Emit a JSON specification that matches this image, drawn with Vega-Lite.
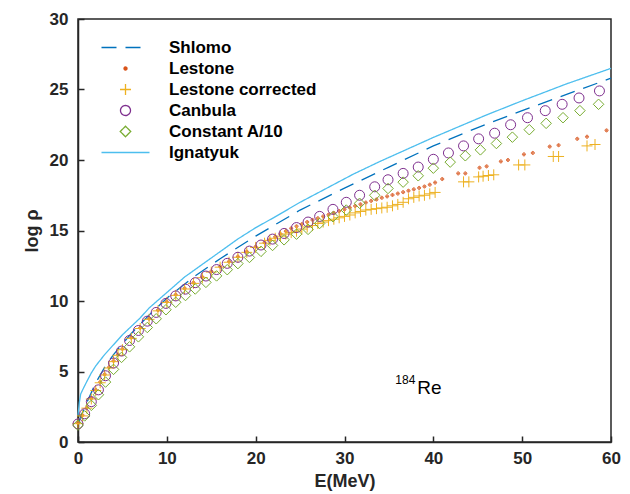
{
  "$schema": "https://vega.github.io/schema/vega-lite/v6.json",
  "width": 533,
  "height": 423,
  "autosize": "none",
  "padding": {"left": 78, "top": 19, "right": 19, "bottom": 52},
  "background": "white",
  "config": {
    "font": "Liberation Sans",
    "view": {"stroke": "#262626", "strokeWidth": 1.5},
    "axis": {
      "grid": false,
      "domainColor": "#262626",
      "domainWidth": 1.5,
      "tickColor": "#262626",
      "tickWidth": 1.5,
      "labelFont": "Liberation Sans",
      "labelFontWeight": "bold",
      "labelFontSize": 17,
      "labelColor": "#262626",
      "labelFlush": false,
      "titleFont": "Liberation Sans",
      "titleFontWeight": "bold",
      "titleFontSize": 18,
      "titleColor": "#262626"
    }
  },
  "datasets": {
    "curves": [
      {"series": "Shlomo", "E": 0, "logrho": 1.3},
      {"series": "Shlomo", "E": 0.5, "logrho": 2.1},
      {"series": "Shlomo", "E": 1, "logrho": 2.8},
      {"series": "Shlomo", "E": 2, "logrho": 4.2},
      {"series": "Shlomo", "E": 3, "logrho": 5.3},
      {"series": "Shlomo", "E": 4, "logrho": 6.2},
      {"series": "Shlomo", "E": 6, "logrho": 7.7},
      {"series": "Shlomo", "E": 8, "logrho": 9.0},
      {"series": "Shlomo", "E": 10, "logrho": 10.2},
      {"series": "Shlomo", "E": 13, "logrho": 11.7},
      {"series": "Shlomo", "E": 16, "logrho": 13.0},
      {"series": "Shlomo", "E": 20, "logrho": 14.6},
      {"series": "Shlomo", "E": 25, "logrho": 16.45},
      {"series": "Shlomo", "E": 30, "logrho": 18.0},
      {"series": "Shlomo", "E": 35, "logrho": 19.5},
      {"series": "Shlomo", "E": 40, "logrho": 21.0},
      {"series": "Shlomo", "E": 45, "logrho": 22.3},
      {"series": "Shlomo", "E": 50, "logrho": 23.5},
      {"series": "Shlomo", "E": 55, "logrho": 24.65},
      {"series": "Shlomo", "E": 60, "logrho": 25.8},

      {"series": "Ignatyuk", "E": 0, "logrho": 1.9},
      {"series": "Ignatyuk", "E": 0.15, "logrho": 2.8},
      {"series": "Ignatyuk", "E": 0.3, "logrho": 3.4},
      {"series": "Ignatyuk", "E": 0.6, "logrho": 3.8},
      {"series": "Ignatyuk", "E": 1, "logrho": 4.3},
      {"series": "Ignatyuk", "E": 1.5, "logrho": 4.9},
      {"series": "Ignatyuk", "E": 2, "logrho": 5.4},
      {"series": "Ignatyuk", "E": 3, "logrho": 6.2},
      {"series": "Ignatyuk", "E": 4, "logrho": 6.9},
      {"series": "Ignatyuk", "E": 5, "logrho": 7.6},
      {"series": "Ignatyuk", "E": 6, "logrho": 8.2},
      {"series": "Ignatyuk", "E": 7, "logrho": 8.8},
      {"series": "Ignatyuk", "E": 8, "logrho": 9.5},
      {"series": "Ignatyuk", "E": 10, "logrho": 10.6},
      {"series": "Ignatyuk", "E": 12, "logrho": 11.7},
      {"series": "Ignatyuk", "E": 14, "logrho": 12.6},
      {"series": "Ignatyuk", "E": 16, "logrho": 13.5},
      {"series": "Ignatyuk", "E": 18, "logrho": 14.4},
      {"series": "Ignatyuk", "E": 20, "logrho": 15.2},
      {"series": "Ignatyuk", "E": 22, "logrho": 15.9},
      {"series": "Ignatyuk", "E": 25, "logrho": 17.0},
      {"series": "Ignatyuk", "E": 28, "logrho": 18.0},
      {"series": "Ignatyuk", "E": 31, "logrho": 19.0},
      {"series": "Ignatyuk", "E": 34, "logrho": 19.9},
      {"series": "Ignatyuk", "E": 37, "logrho": 20.75},
      {"series": "Ignatyuk", "E": 40, "logrho": 21.6},
      {"series": "Ignatyuk", "E": 43, "logrho": 22.4},
      {"series": "Ignatyuk", "E": 46, "logrho": 23.2},
      {"series": "Ignatyuk", "E": 50, "logrho": 24.2},
      {"series": "Ignatyuk", "E": 55, "logrho": 25.4},
      {"series": "Ignatyuk", "E": 60, "logrho": 26.5},

      {"series": "Lestone", "E": 0, "logrho": 1.35},
      {"series": "Lestone", "E": 0.5, "logrho": 1.9},
      {"series": "Lestone", "E": 1, "logrho": 2.45},
      {"series": "Lestone", "E": 1.5, "logrho": 3.1},
      {"series": "Lestone", "E": 2, "logrho": 3.7},
      {"series": "Lestone", "E": 2.5, "logrho": 4.25},
      {"series": "Lestone", "E": 3, "logrho": 4.8},
      {"series": "Lestone", "E": 3.5, "logrho": 5.3},
      {"series": "Lestone", "E": 4, "logrho": 5.75},
      {"series": "Lestone", "E": 4.5, "logrho": 6.2},
      {"series": "Lestone", "E": 5, "logrho": 6.6},
      {"series": "Lestone", "E": 6, "logrho": 7.4},
      {"series": "Lestone", "E": 7, "logrho": 8.1},
      {"series": "Lestone", "E": 8, "logrho": 8.75},
      {"series": "Lestone", "E": 9, "logrho": 9.35},
      {"series": "Lestone", "E": 10, "logrho": 9.95},
      {"series": "Lestone", "E": 11, "logrho": 10.45},
      {"series": "Lestone", "E": 12, "logrho": 10.9},
      {"series": "Lestone", "E": 13, "logrho": 11.3},
      {"series": "Lestone", "E": 14, "logrho": 11.7},
      {"series": "Lestone", "E": 15, "logrho": 12.1},
      {"series": "Lestone", "E": 16, "logrho": 12.45},
      {"series": "Lestone", "E": 17, "logrho": 12.8},
      {"series": "Lestone", "E": 18, "logrho": 13.15},
      {"series": "Lestone", "E": 19, "logrho": 13.5},
      {"series": "Lestone", "E": 20, "logrho": 13.85},
      {"series": "Lestone", "E": 21, "logrho": 14.15},
      {"series": "Lestone", "E": 21.6, "logrho": 14.35},
      {"series": "Lestone", "E": 22.2, "logrho": 14.55},
      {"series": "Lestone", "E": 22.8, "logrho": 14.75},
      {"series": "Lestone", "E": 23.4, "logrho": 14.95},
      {"series": "Lestone", "E": 24.0, "logrho": 15.15},
      {"series": "Lestone", "E": 24.6, "logrho": 15.3},
      {"series": "Lestone", "E": 25.2, "logrho": 15.45},
      {"series": "Lestone", "E": 25.8, "logrho": 15.6},
      {"series": "Lestone", "E": 26.4, "logrho": 15.75},
      {"series": "Lestone", "E": 27.0, "logrho": 15.87},
      {"series": "Lestone", "E": 27.6, "logrho": 16.0},
      {"series": "Lestone", "E": 28.2, "logrho": 16.12},
      {"series": "Lestone", "E": 28.8, "logrho": 16.25},
      {"series": "Lestone", "E": 29.4, "logrho": 16.38},
      {"series": "Lestone", "E": 30.0, "logrho": 16.5},
      {"series": "Lestone", "E": 30.6, "logrho": 16.62},
      {"series": "Lestone", "E": 31.2, "logrho": 16.74},
      {"series": "Lestone", "E": 31.8, "logrho": 16.86},
      {"series": "Lestone", "E": 32.4, "logrho": 16.98},
      {"series": "Lestone", "E": 33.0, "logrho": 17.1},
      {"series": "Lestone", "E": 33.6, "logrho": 17.2},
      {"series": "Lestone", "E": 34.2, "logrho": 17.32},
      {"series": "Lestone", "E": 34.8, "logrho": 17.42},
      {"series": "Lestone", "E": 35.4, "logrho": 17.52},
      {"series": "Lestone", "E": 36.0, "logrho": 17.62},
      {"series": "Lestone", "E": 36.6, "logrho": 17.72},
      {"series": "Lestone", "E": 37.2, "logrho": 17.82},
      {"series": "Lestone", "E": 37.8, "logrho": 17.92},
      {"series": "Lestone", "E": 38.4, "logrho": 18.02},
      {"series": "Lestone", "E": 39.0, "logrho": 18.12},
      {"series": "Lestone", "E": 39.6, "logrho": 18.25},
      {"series": "Lestone", "E": 40.2, "logrho": 18.4},
      {"series": "Lestone", "E": 41.0, "logrho": 18.65},
      {"series": "Lestone", "E": 42.8, "logrho": 19.05},
      {"series": "Lestone", "E": 43.6, "logrho": 19.05},
      {"series": "Lestone", "E": 45.2, "logrho": 19.45},
      {"series": "Lestone", "E": 46.0, "logrho": 19.55},
      {"series": "Lestone", "E": 47.6, "logrho": 19.9},
      {"series": "Lestone", "E": 48.4, "logrho": 20.0},
      {"series": "Lestone", "E": 50.2, "logrho": 20.4},
      {"series": "Lestone", "E": 51.2, "logrho": 20.5},
      {"series": "Lestone", "E": 53.1, "logrho": 20.95},
      {"series": "Lestone", "E": 54.1, "logrho": 21.05},
      {"series": "Lestone", "E": 56.2, "logrho": 21.5},
      {"series": "Lestone", "E": 57.3, "logrho": 21.65},
      {"series": "Lestone", "E": 59.5, "logrho": 22.1},

      {"series": "Lestone corrected", "E": 0, "logrho": 1.3},
      {"series": "Lestone corrected", "E": 0.5, "logrho": 1.85},
      {"series": "Lestone corrected", "E": 1, "logrho": 2.4},
      {"series": "Lestone corrected", "E": 1.5, "logrho": 3.05},
      {"series": "Lestone corrected", "E": 2, "logrho": 3.65},
      {"series": "Lestone corrected", "E": 2.5, "logrho": 4.2},
      {"series": "Lestone corrected", "E": 3, "logrho": 4.75},
      {"series": "Lestone corrected", "E": 3.5, "logrho": 5.25},
      {"series": "Lestone corrected", "E": 4, "logrho": 5.7},
      {"series": "Lestone corrected", "E": 4.5, "logrho": 6.15},
      {"series": "Lestone corrected", "E": 5, "logrho": 6.55},
      {"series": "Lestone corrected", "E": 6, "logrho": 7.35},
      {"series": "Lestone corrected", "E": 7, "logrho": 8.05},
      {"series": "Lestone corrected", "E": 8, "logrho": 8.7},
      {"series": "Lestone corrected", "E": 9, "logrho": 9.3},
      {"series": "Lestone corrected", "E": 10, "logrho": 9.9},
      {"series": "Lestone corrected", "E": 11, "logrho": 10.4},
      {"series": "Lestone corrected", "E": 12, "logrho": 10.85},
      {"series": "Lestone corrected", "E": 13, "logrho": 11.25},
      {"series": "Lestone corrected", "E": 14, "logrho": 11.65},
      {"series": "Lestone corrected", "E": 15, "logrho": 12.05},
      {"series": "Lestone corrected", "E": 16, "logrho": 12.4},
      {"series": "Lestone corrected", "E": 17, "logrho": 12.75},
      {"series": "Lestone corrected", "E": 18, "logrho": 13.1},
      {"series": "Lestone corrected", "E": 19, "logrho": 13.45},
      {"series": "Lestone corrected", "E": 20, "logrho": 13.8},
      {"series": "Lestone corrected", "E": 21, "logrho": 14.1},
      {"series": "Lestone corrected", "E": 21.6, "logrho": 14.3},
      {"series": "Lestone corrected", "E": 22.2, "logrho": 14.45},
      {"series": "Lestone corrected", "E": 22.8, "logrho": 14.6},
      {"series": "Lestone corrected", "E": 23.4, "logrho": 14.75},
      {"series": "Lestone corrected", "E": 24.0, "logrho": 14.85},
      {"series": "Lestone corrected", "E": 24.6, "logrho": 14.95},
      {"series": "Lestone corrected", "E": 25.2, "logrho": 15.1},
      {"series": "Lestone corrected", "E": 25.8, "logrho": 15.25},
      {"series": "Lestone corrected", "E": 26.4, "logrho": 15.35},
      {"series": "Lestone corrected", "E": 27.0, "logrho": 15.5},
      {"series": "Lestone corrected", "E": 27.6, "logrho": 15.6},
      {"series": "Lestone corrected", "E": 28.2, "logrho": 15.7},
      {"series": "Lestone corrected", "E": 28.8, "logrho": 15.8},
      {"series": "Lestone corrected", "E": 29.4, "logrho": 15.9},
      {"series": "Lestone corrected", "E": 30.0, "logrho": 16.0},
      {"series": "Lestone corrected", "E": 30.6, "logrho": 16.1},
      {"series": "Lestone corrected", "E": 31.2, "logrho": 16.25},
      {"series": "Lestone corrected", "E": 31.8, "logrho": 16.35},
      {"series": "Lestone corrected", "E": 32.4, "logrho": 16.45},
      {"series": "Lestone corrected", "E": 33.0, "logrho": 16.5},
      {"series": "Lestone corrected", "E": 33.6, "logrho": 16.55},
      {"series": "Lestone corrected", "E": 34.2, "logrho": 16.6},
      {"series": "Lestone corrected", "E": 34.8, "logrho": 16.65},
      {"series": "Lestone corrected", "E": 35.4, "logrho": 16.75},
      {"series": "Lestone corrected", "E": 36.0, "logrho": 16.85},
      {"series": "Lestone corrected", "E": 36.6, "logrho": 17.0},
      {"series": "Lestone corrected", "E": 37.2, "logrho": 17.25},
      {"series": "Lestone corrected", "E": 37.8, "logrho": 17.35},
      {"series": "Lestone corrected", "E": 38.4, "logrho": 17.45},
      {"series": "Lestone corrected", "E": 39.0, "logrho": 17.5},
      {"series": "Lestone corrected", "E": 39.6, "logrho": 17.6},
      {"series": "Lestone corrected", "E": 40.2, "logrho": 17.7},
      {"series": "Lestone corrected", "E": 43.4, "logrho": 18.45},
      {"series": "Lestone corrected", "E": 44.0, "logrho": 18.45},
      {"series": "Lestone corrected", "E": 45.1, "logrho": 18.8},
      {"series": "Lestone corrected", "E": 45.6, "logrho": 18.85},
      {"series": "Lestone corrected", "E": 46.2, "logrho": 18.9},
      {"series": "Lestone corrected", "E": 46.8, "logrho": 18.95},
      {"series": "Lestone corrected", "E": 49.6, "logrho": 19.65},
      {"series": "Lestone corrected", "E": 50.3, "logrho": 19.65},
      {"series": "Lestone corrected", "E": 53.5, "logrho": 20.25},
      {"series": "Lestone corrected", "E": 54.1, "logrho": 20.25},
      {"series": "Lestone corrected", "E": 57.3, "logrho": 21.0},
      {"series": "Lestone corrected", "E": 58.2, "logrho": 21.1},

      {"series": "Canbula", "E": 0, "logrho": 1.28},
      {"series": "Canbula", "E": 0.75, "logrho": 2.0},
      {"series": "Canbula", "E": 1.5, "logrho": 2.86},
      {"series": "Canbula", "E": 2.3, "logrho": 3.7},
      {"series": "Canbula", "E": 3.1, "logrho": 4.7},
      {"series": "Canbula", "E": 4.0, "logrho": 5.6},
      {"series": "Canbula", "E": 4.9, "logrho": 6.45},
      {"series": "Canbula", "E": 5.8, "logrho": 7.2},
      {"series": "Canbula", "E": 6.8, "logrho": 7.91},
      {"series": "Canbula", "E": 7.8, "logrho": 8.57},
      {"series": "Canbula", "E": 8.8, "logrho": 9.19},
      {"series": "Canbula", "E": 9.9, "logrho": 9.83},
      {"series": "Canbula", "E": 11.0, "logrho": 10.36},
      {"series": "Canbula", "E": 12.1, "logrho": 10.84},
      {"series": "Canbula", "E": 13.2, "logrho": 11.3},
      {"series": "Canbula", "E": 14.4, "logrho": 11.77},
      {"series": "Canbula", "E": 15.6, "logrho": 12.23},
      {"series": "Canbula", "E": 16.8, "logrho": 12.67},
      {"series": "Canbula", "E": 18.0, "logrho": 13.1},
      {"series": "Canbula", "E": 19.3, "logrho": 13.54},
      {"series": "Canbula", "E": 20.6, "logrho": 13.97},
      {"series": "Canbula", "E": 21.9, "logrho": 14.39},
      {"series": "Canbula", "E": 23.2, "logrho": 14.79},
      {"series": "Canbula", "E": 24.6, "logrho": 15.21},
      {"series": "Canbula", "E": 25.9, "logrho": 15.6},
      {"series": "Canbula", "E": 27.2, "logrho": 16.0},
      {"series": "Canbula", "E": 28.7, "logrho": 16.5},
      {"series": "Canbula", "E": 30.2, "logrho": 17.0},
      {"series": "Canbula", "E": 31.7, "logrho": 17.5},
      {"series": "Canbula", "E": 33.4, "logrho": 18.1},
      {"series": "Canbula", "E": 34.9, "logrho": 18.6},
      {"series": "Canbula", "E": 36.6, "logrho": 19.05},
      {"series": "Canbula", "E": 38.3, "logrho": 19.5},
      {"series": "Canbula", "E": 40.0, "logrho": 20.05},
      {"series": "Canbula", "E": 41.7, "logrho": 20.5},
      {"series": "Canbula", "E": 43.4, "logrho": 21.0},
      {"series": "Canbula", "E": 45.1, "logrho": 21.5},
      {"series": "Canbula", "E": 46.9, "logrho": 21.9},
      {"series": "Canbula", "E": 48.7, "logrho": 22.5},
      {"series": "Canbula", "E": 50.6, "logrho": 23.0},
      {"series": "Canbula", "E": 52.6, "logrho": 23.5},
      {"series": "Canbula", "E": 54.5, "logrho": 23.95},
      {"series": "Canbula", "E": 56.4, "logrho": 24.4},
      {"series": "Canbula", "E": 58.7, "logrho": 24.9},

      {"series": "Constant A/10", "E": 0, "logrho": 1.2},
      {"series": "Constant A/10", "E": 0.75, "logrho": 1.85},
      {"series": "Constant A/10", "E": 1.5, "logrho": 2.6},
      {"series": "Constant A/10", "E": 2.3, "logrho": 3.35},
      {"series": "Constant A/10", "E": 3.1, "logrho": 4.25},
      {"series": "Constant A/10", "E": 4.0, "logrho": 5.15},
      {"series": "Constant A/10", "E": 4.9, "logrho": 6.0},
      {"series": "Constant A/10", "E": 5.8, "logrho": 6.75},
      {"series": "Constant A/10", "E": 6.8, "logrho": 7.46},
      {"series": "Constant A/10", "E": 7.8, "logrho": 8.12},
      {"series": "Constant A/10", "E": 8.8, "logrho": 8.74},
      {"series": "Constant A/10", "E": 9.9, "logrho": 9.38},
      {"series": "Constant A/10", "E": 11.0, "logrho": 9.91},
      {"series": "Constant A/10", "E": 12.1, "logrho": 10.39},
      {"series": "Constant A/10", "E": 13.2, "logrho": 10.85},
      {"series": "Constant A/10", "E": 14.4, "logrho": 11.32},
      {"series": "Constant A/10", "E": 15.6, "logrho": 11.78},
      {"series": "Constant A/10", "E": 16.8, "logrho": 12.22},
      {"series": "Constant A/10", "E": 18.0, "logrho": 12.65},
      {"series": "Constant A/10", "E": 19.3, "logrho": 13.09},
      {"series": "Constant A/10", "E": 20.6, "logrho": 13.52},
      {"series": "Constant A/10", "E": 21.9, "logrho": 13.94},
      {"series": "Constant A/10", "E": 23.2, "logrho": 14.34},
      {"series": "Constant A/10", "E": 24.6, "logrho": 14.74},
      {"series": "Constant A/10", "E": 25.9, "logrho": 15.08},
      {"series": "Constant A/10", "E": 27.2, "logrho": 15.5},
      {"series": "Constant A/10", "E": 28.7, "logrho": 15.98},
      {"series": "Constant A/10", "E": 30.2, "logrho": 16.45},
      {"series": "Constant A/10", "E": 31.7, "logrho": 16.93},
      {"series": "Constant A/10", "E": 33.4, "logrho": 17.5},
      {"series": "Constant A/10", "E": 34.9, "logrho": 17.98},
      {"series": "Constant A/10", "E": 36.6, "logrho": 18.43},
      {"series": "Constant A/10", "E": 38.3, "logrho": 18.88},
      {"series": "Constant A/10", "E": 40.0, "logrho": 19.42},
      {"series": "Constant A/10", "E": 41.9, "logrho": 19.85},
      {"series": "Constant A/10", "E": 43.6, "logrho": 20.3},
      {"series": "Constant A/10", "E": 45.3, "logrho": 20.72},
      {"series": "Constant A/10", "E": 47.1, "logrho": 21.17},
      {"series": "Constant A/10", "E": 48.9, "logrho": 21.62},
      {"series": "Constant A/10", "E": 50.8, "logrho": 22.15},
      {"series": "Constant A/10", "E": 52.7, "logrho": 22.6},
      {"series": "Constant A/10", "E": 54.6, "logrho": 23.0},
      {"series": "Constant A/10", "E": 56.5, "logrho": 23.5},
      {"series": "Constant A/10", "E": 58.6, "logrho": 23.95}
    ],
    "notes": [
      {"E": 38.2, "logrho": 3.4, "mass": "184", "element": "Re"}
    ]
  },
  "layer": [
    {
      "data": {"name": "curves"},
      "transform": [{"filter": {"field": "series", "oneOf": ["Shlomo", "Ignatyuk"]}}],
      "mark": {"type": "line", "strokeWidth": 1.3},
      "encoding": {
        "x": {"field": "E", "type": "quantitative", "scale": {"domain": [0, 60]},
              "axis": {"orient": "bottom", "values": [0, 10, 20, 30, 40, 50, 60], "title": "E(MeV)", "titlePadding": 6, "tickSize": -6, "labelPadding": 14}},
        "y": {"field": "logrho", "type": "quantitative", "scale": {"domain": [0, 30]},
              "axis": {"orient": "left", "values": [0, 5, 10, 15, 20, 25, 30], "title": "log ρ", "titlePadding": 8, "tickSize": -6, "labelPadding": 16}},
        "color": {"field": "series", "type": "nominal",
          "scale": {"domain": ["Shlomo", "Lestone", "Lestone corrected", "Canbula", "Constant A/10", "Ignatyuk"],
                    "range": ["#0072BD", "#D95319", "#EDB120", "#7E2F8E", "#77AC30", "#4DBEEE"]},
          "legend": {"title": null, "orient": "none", "legendX": 20, "legendY": 20, "padding": 0,
                     "labelFont": "Liberation Sans", "labelFontSize": 17, "labelFontWeight": "bold", "labelColor": "#000000",
                     "labelLimit": 400, "symbolSize": 100, "symbolStrokeWidth": 1.3, "symbolOffset": 19,
                     "labelOffset": 35, "rowPadding": 3}},
        "strokeDash": {"field": "series", "type": "nominal",
          "scale": {"domain": ["Shlomo", "Lestone", "Lestone corrected", "Canbula", "Constant A/10", "Ignatyuk"],
                    "range": [[15, 9], [1, 0], [1, 0], [1, 0], [1, 0], [1, 0]]},
          "legend": {"title": null, "orient": "none", "legendX": 20, "legendY": 20, "padding": 0,
                     "labelFont": "Liberation Sans", "labelFontSize": 17, "labelFontWeight": "bold", "labelColor": "#000000",
                     "labelLimit": 400, "symbolSize": 100, "symbolStrokeWidth": 1.3, "symbolOffset": 19,
                     "labelOffset": 35, "rowPadding": 3}}
      }
    },
    {
      "data": {"name": "curves"},
      "transform": [{"filter": {"field": "series", "oneOf": ["Lestone", "Lestone corrected", "Canbula", "Constant A/10"]}}],
      "mark": {"type": "point", "filled": false, "strokeWidth": 1, "opacity": 1, "size": 100},
      "encoding": {
        "x": {"field": "E", "type": "quantitative"},
        "y": {"field": "logrho", "type": "quantitative"},
        "color": {"field": "series", "type": "nominal",
          "scale": {"domain": ["Shlomo", "Lestone", "Lestone corrected", "Canbula", "Constant A/10", "Ignatyuk"],
                    "range": ["#0072BD", "#D95319", "#EDB120", "#7E2F8E", "#77AC30", "#4DBEEE"]},
          "legend": {"title": null, "orient": "none", "legendX": 20, "legendY": 20, "padding": 0,
                     "labelFont": "Liberation Sans", "labelFontSize": 17, "labelFontWeight": "bold", "labelColor": "#000000",
                     "labelLimit": 400, "symbolSize": 100, "symbolStrokeWidth": 1.3, "symbolOffset": 19,
                     "labelOffset": 35, "rowPadding": 3}},
        "shape": {"field": "series", "type": "nominal",
          "scale": {"domain": ["Shlomo", "Lestone", "Lestone corrected", "Canbula", "Constant A/10", "Ignatyuk"],
                    "range": ["M-4.8,0H4.8",
                              "M-0.3,0A0.3,0.3 0 1,0 0.3,0A0.3,0.3 0 1,0 -0.3,0ZM-0.12,0A0.12,0.12 0 1,0 0.12,0A0.12,0.12 0 1,0 -0.12,0Z",
                              "M-1.1,0H1.1M0,-1.1V1.1",
                              "M-1,0A1,1 0 1,0 1,0A1,1 0 1,0 -1,0Z",
                              "M0,-1.05L1.05,0L0,1.05L-1.05,0Z",
                              "M-4.8,0H4.8"]},
          "legend": {"title": null, "orient": "none", "legendX": 20, "legendY": 20, "padding": 0,
                     "labelFont": "Liberation Sans", "labelFontSize": 17, "labelFontWeight": "bold", "labelColor": "#000000",
                     "labelLimit": 400, "symbolSize": 100, "symbolStrokeWidth": 1.3, "symbolOffset": 19,
                     "labelOffset": 35, "rowPadding": 3}}
      }
    },
    {
      "data": {"name": "notes"},
      "mark": {"type": "text", "align": "right", "baseline": "alphabetic", "font": "Liberation Sans", "fontSize": 12, "dx": -2, "dy": -10, "color": "#000000"},
      "encoding": {
        "x": {"field": "E", "type": "quantitative"},
        "y": {"field": "logrho", "type": "quantitative"},
        "text": {"field": "mass"}
      }
    },
    {
      "data": {"name": "notes"},
      "mark": {"type": "text", "align": "left", "baseline": "alphabetic", "font": "Liberation Sans", "fontSize": 19, "color": "#000000"},
      "encoding": {
        "x": {"field": "E", "type": "quantitative"},
        "y": {"field": "logrho", "type": "quantitative"},
        "text": {"field": "element"}
      }
    }
  ]
}
